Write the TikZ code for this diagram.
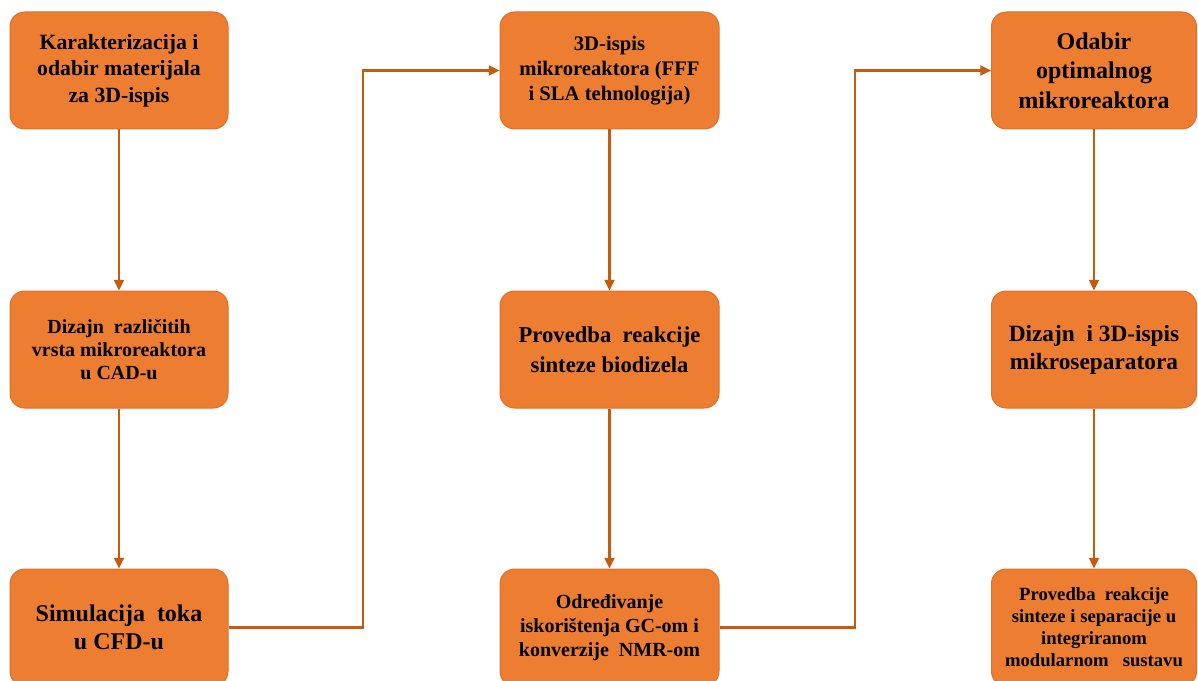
\documentclass[tikz,border=0pt]{standalone}
\usepackage{fontspec}
\setmainfont{Liberation Serif}
\usetikzlibrary{arrows.meta}

\definecolor{boxfill}{RGB}{237,125,49}
\definecolor{boxline}{RGB}{222,112,42}
\definecolor{flowline}{RGB}{197,90,17}

\newcommand{\boxfont}[2]{\bfseries\fontsize{#1}{#2}\selectfont}

\tikzset{
  stagebox/.style={draw=boxline, line width=0.75, fill=boxfill, rounded corners=11pt,
    minimum width=163.5pt, minimum height=87.75pt, inner sep=0.75pt, align=center},
  flow/.style={draw=flowline, line width=1.6pt,
    -{Triangle[length=8pt,width=7.5pt]}}
}

\begin{document}
\begin{tikzpicture}[x=0.75pt,y=0.75pt,yscale=-1,xscale=1]
\useasboundingbox (0,0) rectangle (1198,681);

%Rounded Rect column 1
\node [stagebox, font=\boxfont{16.3}{20}] (karakt) at (119,70.5) {Karakterizacija i\\ odabir materijala\\ za 3D-ispis};
\node [stagebox, font=\boxfont{15}{17.5}] (dizajn) at (119,349.5) {Dizajn\ \ različitih\\ vrsta mikroreaktora\\ u CAD-u};
\node [stagebox, font=\boxfont{18}{21}] (simul) at (119,627.5) {Simulacija\ \ toka\\ u CFD-u};

%Rounded Rect column 2
\node [stagebox, minimum width=164.25pt, font=\boxfont{15.5}{18.75}] (ispis) at (609.5,70.5) {3D-ispis\\ mikroreaktora (FFF\\ i SLA tehnologija)};
\node [stagebox, minimum width=164.25pt, font=\boxfont{17}{22.5}] (provedba) at (609.5,349.5) {Provedba\ \ reakcije\\ sinteze biodizela};
\node [stagebox, minimum width=164.25pt, font=\boxfont{15}{18}] (odredj) at (609.5,627.5) {Određivanje\\ iskorištenja GC-om i\\ konverzije\ \ NMR-om};

%Rounded Rect column 3
\node [stagebox, minimum width=153.75pt, font=\boxfont{18}{22}] (odabir) at (1094,70.5) {Odabir\\ optimalnog\\ mikroreaktora};
\node [stagebox, minimum width=153.75pt, font=\boxfont{17.5}{21}] (separ) at (1094,349.5) {Dizajn\ \ i 3D-ispis\\ mikroseparatora};
\node [stagebox, minimum width=153.75pt, font=\boxfont{14}{16.5}] (modul) at (1094,627.5) {Provedba\ \ reakcije\\ sinteze i separacije u\\ integriranom\\ modularnom\ \ \ sustavu};

%Turning points
\coordinate (turnA) at (363,0);
\coordinate (turnB) at (855,0);

%Connectors
\draw [flow] (karakt) -- (dizajn);
\draw [flow] (dizajn) -- (simul);
\draw [flow] (simul.east) -- (simul.east -| turnA) |- (ispis.west);
\draw [flow] (ispis) -- (provedba);
\draw [flow] (provedba) -- (odredj);
\draw [flow] (odredj.east) -- (odredj.east -| turnB) |- (odabir.west);
\draw [flow] (odabir) -- (separ);
\draw [flow] (separ) -- (modul);

\end{tikzpicture}
\end{document}
